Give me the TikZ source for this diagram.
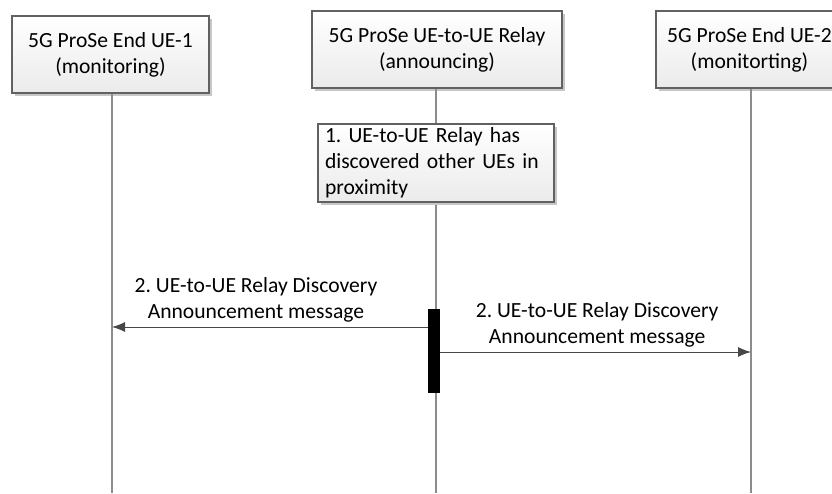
\documentclass[tikz,border=0pt]{standalone}
\usepackage{fontspec}
\setmainfont{Carlito}
\usepackage{tikz}
\usetikzlibrary{
  positioning,
  arrows.meta,
  shadows
}

\begin{document}
\frenchspacing
\begin{tikzpicture}[
  x=1pt, y=1pt,
  font=\fontsize{21.6}{26}\selectfont,
  entity/.style={
    rectangle,
    draw=black!62,
    line width=1.2pt,
    top color=white,
    bottom color=black!8,
    drop shadow={shadow xshift=2.5pt, shadow yshift=-2.5pt, fill=black!22, opacity=1},
    minimum height=77pt,
    align=center
  },
  notebox/.style={
    entity,
    minimum width=236pt,
    minimum height=78pt,
    text width=222pt,
    align=left,
    inner sep=3pt
  },
  lifeline/.style={
    draw=black!45,
    line width=1.4pt
  },
  activebar/.style={
    rectangle,
    fill=black,
    draw=none,
    minimum width=12pt,
    minimum height=84pt,
    inner sep=0pt
  },
  msgarrow/.style={
    -{Latex[length=13pt, width=10pt]},
    draw=black!72,
    line width=1pt
  },
  msglabel/.style={
    above,
    align=center,
    inner sep=0pt,
    yshift=4pt
  }
]

\useasboundingbox (0,0) rectangle (832,-493);
\clip (0,0) rectangle (832,-493);

% entities
\node[entity, minimum width=197pt] (ue1) at (110.5,-54.5) {5G ProSe End UE-1\\(monitoring)};
\node[entity, minimum width=250pt] (relay) at (437,-49.5) {5G ProSe UE-to-UE Relay\\(announcing)};
\node[entity, minimum width=187pt] (ue2) at (749.5,-49.5) {5G ProSe End UE-2\\(monitorting)};

% lifeline ends
\coordinate (ue1end) at (112,-493);
\coordinate (relayend) at (436,-493);
\coordinate (ue2end) at (751,-493);

\draw[lifeline] (ue1.south -| ue1end) -- (ue1end);
\draw[lifeline] (ue2.south -| ue2end) -- (ue2end);
\draw[lifeline] (relay.south -| relayend) -- (relayend);

% step 1
\node[notebox] (disc) at (436,-163) {1. UE-to-UE Relay has\\discovered other UEs in\\proximity};

% step 2
\node[activebar] (act) at (434,-351) {};

\draw[msgarrow] (act.west |- 0,-327) -- node[msglabel, pos=.544] {2. UE-to-UE Relay Discovery\\Announcement message} (ue1end |- 0,-327);
\draw[msgarrow] (act.east |- 0,-352) -- node[msglabel, pos=.505] {2. UE-to-UE Relay Discovery\\Announcement message} (ue2end |- 0,-352);

\end{tikzpicture}
\end{document}
